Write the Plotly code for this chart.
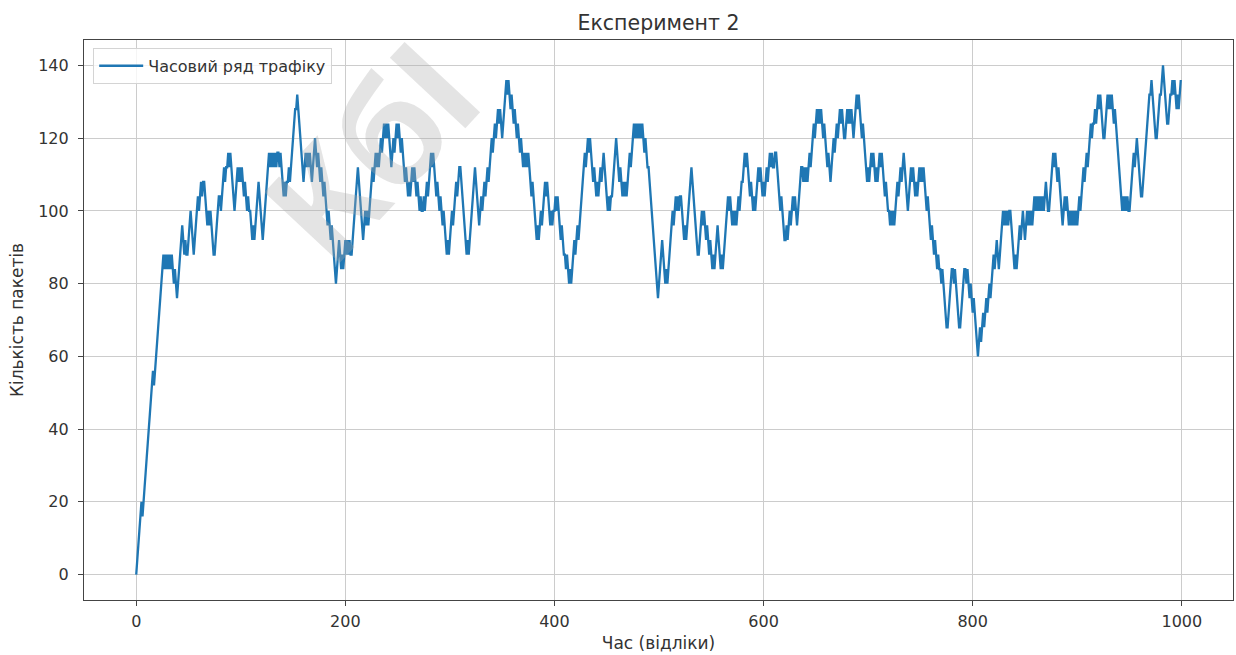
import plotly.graph_objects as go

# Packet count per time sample (1000 samples)
traffic = [
    0, 4, 8, 12, 16, 20, 16, 20, 24, 28,
    32, 36, 40, 44, 48, 52, 56, 52, 56, 60,
    64, 68, 72, 76, 80, 84, 88, 84, 88, 84,
    88, 84, 88, 84, 88, 84, 80, 84, 80, 76,
    80, 84, 88, 92, 96, 92, 88, 92, 88, 88,
    92, 96, 100, 96, 92, 88, 92, 96, 100, 104,
    100, 104, 108, 104, 108, 108, 104, 100, 96, 100,
    96, 100, 96, 92, 88, 88, 92, 96, 100, 104,
    104, 100, 104, 108, 112, 108, 112, 112, 116, 112,
    116, 112, 108, 104, 100, 104, 108, 112, 108, 112,
    108, 112, 108, 104, 108, 104, 100, 104, 100, 100,
    96, 92, 96, 92, 96, 100, 104, 108, 104, 100,
    96, 92, 96, 100, 104, 108, 112, 116, 112, 116,
    112, 116, 112, 116, 112, 116, 116, 112, 116, 112,
    108, 104, 108, 104, 108, 108, 112, 108, 112, 116,
    120, 124, 128, 128, 132, 128, 124, 120, 116, 112,
    108, 112, 116, 112, 116, 112, 116, 112, 108, 112,
    116, 120, 116, 112, 116, 112, 108, 112, 108, 104,
    108, 104, 100, 96, 100, 96, 92, 96, 92, 88,
    84, 80, 84, 88, 92, 88, 84, 88, 84, 88,
    92, 88, 92, 88, 92, 88, 88, 92, 96, 100,
    104, 108, 112, 108, 104, 100, 96, 92, 96, 100,
    96, 100, 96, 100, 104, 108, 112, 108, 112, 116,
    112, 116, 112, 116, 120, 116, 120, 124, 120, 124,
    120, 124, 120, 116, 112, 116, 120, 116, 120, 124,
    120, 124, 120, 116, 120, 116, 112, 108, 112, 108,
    104, 108, 104, 108, 112, 108, 112, 108, 104, 108,
    104, 100, 104, 100, 100, 104, 100, 104, 108, 104,
    108, 112, 116, 112, 116, 112, 108, 104, 108, 104,
    100, 104, 100, 96, 100, 96, 92, 88, 92, 88,
    92, 96, 100, 96, 100, 104, 108, 104, 108, 112,
    112, 108, 104, 100, 96, 92, 88, 92, 88, 92,
    96, 100, 104, 108, 112, 108, 104, 100, 96, 100,
    104, 100, 104, 108, 104, 108, 112, 108, 112, 116,
    120, 116, 120, 124, 120, 124, 128, 124, 128, 124,
    120, 124, 128, 132, 136, 132, 136, 132, 128, 132,
    128, 124, 128, 124, 120, 124, 120, 116, 120, 116,
    112, 116, 112, 116, 112, 116, 112, 108, 104, 108,
    104, 100, 96, 92, 96, 92, 96, 100, 96, 100,
    104, 108, 104, 108, 104, 100, 96, 100, 96, 100,
    100, 104, 100, 104, 100, 96, 92, 96, 92, 88,
    88, 84, 88, 84, 80, 84, 80, 84, 88, 92,
    88, 92, 96, 92, 96, 100, 104, 108, 112, 116,
    112, 116, 120, 116, 120, 116, 112, 108, 112, 108,
    104, 108, 104, 108, 112, 108, 112, 116, 112, 108,
    104, 100, 104, 100, 104, 104, 108, 112, 116, 120,
    116, 112, 108, 112, 108, 104, 108, 104, 108, 104,
    108, 112, 116, 112, 116, 120, 124, 120, 124, 120,
    124, 120, 124, 120, 124, 120, 116, 120, 116, 112,
    112, 108, 104, 100, 96, 92, 88, 84, 80, 76,
    80, 84, 88, 92, 88, 84, 80, 84, 80, 84,
    88, 92, 96, 100, 96, 100, 104, 100, 104, 100,
    104, 104, 100, 96, 92, 96, 92, 96, 100, 104,
    108, 112, 108, 104, 100, 96, 92, 88, 88, 92,
    96, 100, 96, 100, 96, 92, 96, 92, 88, 92,
    88, 84, 88, 84, 88, 92, 96, 92, 88, 84,
    88, 84, 88, 92, 96, 100, 104, 100, 104, 100,
    96, 100, 96, 100, 96, 100, 104, 100, 104, 108,
    108, 112, 116, 112, 116, 112, 108, 104, 108, 104,
    100, 104, 100, 104, 108, 112, 108, 112, 108, 104,
    108, 104, 108, 112, 108, 112, 116, 112, 116, 112,
    112, 116, 116, 112, 108, 104, 100, 104, 100, 96,
    92, 92, 96, 92, 96, 100, 96, 100, 104, 100,
    104, 100, 96, 100, 104, 108, 112, 112, 108, 112,
    108, 112, 108, 112, 116, 112, 116, 120, 124, 120,
    124, 128, 124, 128, 124, 128, 124, 120, 124, 120,
    116, 112, 116, 112, 108, 112, 116, 120, 116, 120,
    124, 120, 124, 128, 124, 128, 124, 120, 120, 124,
    128, 124, 128, 124, 128, 124, 120, 124, 128, 132,
    128, 132, 128, 124, 120, 124, 120, 116, 112, 108,
    112, 108, 112, 116, 112, 116, 112, 108, 112, 108,
    112, 116, 112, 116, 112, 108, 104, 108, 104, 100,
    100, 96, 100, 96, 100, 96, 100, 104, 108, 104,
    108, 112, 108, 112, 116, 112, 108, 104, 100, 104,
    108, 112, 108, 112, 108, 104, 108, 104, 108, 112,
    108, 112, 108, 112, 108, 104, 100, 104, 100, 96,
    92, 96, 92, 88, 92, 88, 84, 88, 84, 84,
    80, 84, 80, 76, 72, 68, 68, 72, 76, 80,
    84, 84, 80, 84, 80, 76, 72, 68, 68, 72,
    76, 80, 84, 84, 80, 84, 80, 76, 80, 76,
    72, 76, 72, 68, 64, 60, 64, 68, 64, 68,
    72, 68, 72, 76, 72, 76, 80, 76, 80, 84,
    88, 84, 88, 92, 88, 84, 88, 92, 96, 100,
    96, 100, 96, 100, 96, 100, 100, 96, 92, 88,
    84, 88, 84, 88, 92, 96, 92, 96, 100, 96,
    92, 96, 100, 96, 100, 96, 100, 96, 100, 104,
    100, 104, 100, 104, 100, 104, 100, 104, 100, 104,
    108, 104, 100, 100, 104, 108, 112, 116, 112, 116,
    112, 108, 112, 108, 104, 100, 96, 100, 104, 100,
    104, 100, 96, 100, 96, 100, 96, 100, 96, 100,
    96, 100, 104, 100, 104, 108, 112, 108, 112, 116,
    112, 116, 120, 124, 120, 124, 124, 128, 124, 128,
    132, 128, 132, 128, 124, 120, 120, 124, 128, 132,
    128, 132, 128, 132, 128, 124, 128, 124, 120, 116,
    112, 108, 104, 100, 104, 100, 104, 100, 104, 100,
    100, 104, 108, 112, 116, 112, 116, 120, 116, 112,
    108, 104, 104, 108, 112, 116, 120, 124, 128, 132,
    132, 136, 132, 128, 124, 120, 120, 124, 128, 132,
    132, 136, 140, 136, 132, 128, 124, 124, 128, 132,
    132, 136, 132, 136, 132, 128, 132, 128, 132, 136,
]
samples = list(range(len(traffic)))

x_ticks = [0, 200, 400, 600, 800, 1000]
y_ticks = [0, 20, 40, 60, 80, 100, 120, 140]

FONT = "DejaVu Sans"
TEXT = "#333333"
GRID = "#cccccc"
FRAME = "#444444"

fig = go.Figure()
fig.add_trace(go.Scatter(
    x=samples,
    y=traffic,
    mode="lines",
    name="Часовий ряд трафіку",
    line=dict(color="#1f77b4", width=2.3, simplify=False),
))

# matplotlib-like 5% padding around the data
x_pad = 0.05 * (max(samples) - min(samples))
y_pad = 0.05 * (max(traffic) - min(traffic))

axis_common = dict(
    showgrid=True,
    gridcolor=GRID,
    gridwidth=1,
    zeroline=False,
    showline=True,
    linecolor=FRAME,
    linewidth=1.2,
    mirror=True,
    ticks="outside",
    ticklen=5,
    tickwidth=1,
    tickcolor=FRAME,
    tickfont=dict(family=FONT, size=16, color=TEXT),
)

fig.update_xaxes(
    range=[min(samples) - x_pad, max(samples) + x_pad],
    tickvals=x_ticks,
    ticktext=[str(v) for v in x_ticks],
    ticklabelstandoff=2,
    title=dict(text="Час (відліки)", font=dict(family=FONT, size=17, color=TEXT), standoff=6),
    **axis_common,
)
fig.update_yaxes(
    range=[min(traffic) - y_pad, max(traffic) + y_pad],
    tickvals=y_ticks,
    ticktext=[str(v) for v in y_ticks],
    ticklabelstandoff=6,
    title=dict(text="Кількість пакетів", font=dict(family=FONT, size=17, color=TEXT), standoff=10),
    **axis_common,
)

fig.update_layout(
    width=1236,
    height=655,
    margin=dict(l=84, r=3, t=40, b=55, autoexpand=False),
    paper_bgcolor="white",
    plot_bgcolor="white",
    title=dict(
        text="Експеримент 2",
        x=0.5, xref="paper", xanchor="center",
        y=1 - 23 / 655, yref="container", yanchor="middle",
        font=dict(family=FONT, size=20.5, color=TEXT),
    ),
    showlegend=True,
    legend=dict(
        x=0.008, y=0.986, xanchor="left", yanchor="top",
        bgcolor="rgba(255,255,255,0.8)",
        bordercolor="#d4d4d4", borderwidth=1,
        itemwidth=44,
        font=dict(family=FONT, size=16, color=TEXT),
    ),
)

# faint diagonal watermark over the upper-left part of the plot
fig.add_annotation(
    text="<b>КбІ</b>",
    xref="paper", yref="paper",
    x=(372 - 84) / 1149, y=(600 - 152) / 560,
    xanchor="center", yanchor="middle",
    showarrow=False,
    textangle=-47,
    font=dict(family="Liberation Sans", size=150, color="rgba(170,170,170,0.32)"),
)

fig.write_html("out.html")
